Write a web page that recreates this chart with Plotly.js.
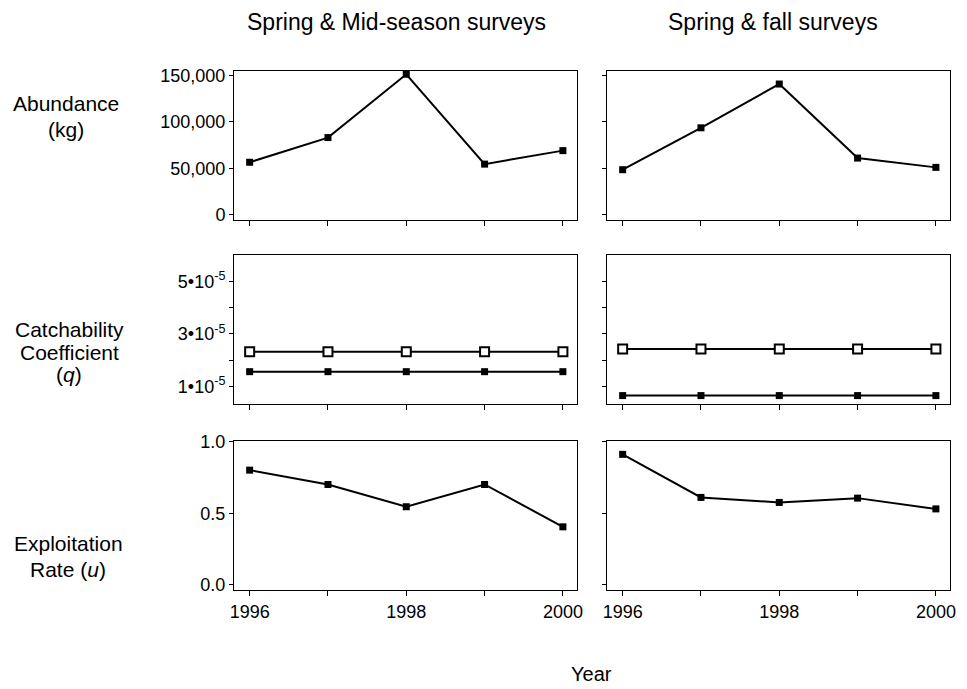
<!DOCTYPE html>
<html>
<head>
<meta charset="utf-8">
<script src="https://cdn.plot.ly/plotly-3.0.1.min.js"></script>
<style>html,body{margin:0;padding:0;background:#fff;}#chart{width:967px;height:689px;}</style>
</head>
<body>
<div id="chart"></div>
<script>
// ---- data ----
const years = [1996, 1997, 1998, 1999, 2000];
const abundanceMid = [56500, 83000, 151000, 54500, 69000];
const abundanceFall = [48500, 93500, 140500, 61000, 51000];
const qMidOpen = [2.32e-5, 2.32e-5, 2.32e-5, 2.32e-5, 2.32e-5];
const qMidFilled = [1.56e-5, 1.56e-5, 1.56e-5, 1.56e-5, 1.56e-5];
const qFallOpen = [2.42e-5, 2.42e-5, 2.42e-5, 2.42e-5, 2.42e-5];
const qFallFilled = [0.65e-5, 0.65e-5, 0.65e-5, 0.65e-5, 0.65e-5];
const uMid = [0.80, 0.70, 0.545, 0.70, 0.405];
const uFall = [0.91, 0.61, 0.575, 0.605, 0.53];

const xTickVals = [1996, 1998, 2000];
const xTickText = ['1996', '1998', '2000'];
const xMinorVals = [1997, 1999];
const abTickVals = [0, 50000, 100000, 150000];
const abTickText = ['0', '50,000', '100,000', '150,000'];
const qTickVals = [1e-5, 3e-5, 5e-5];
const qTickText = ['1•10<sup>-5</sup>', '3•10<sup>-5</sup>', '5•10<sup>-5</sup>'];
const qMinorVals = [2e-5, 4e-5];
const uTickVals = [0, 0.5, 1.0];
const uTickText = ['0.0', '0.5', '1.0'];

const colTitles = ['Spring & Mid-season surveys', 'Spring & fall surveys'];
const rowLabels = [['Abundance', '(kg)'], ['Catchability', 'Coefficient', '(<i>q</i>)'], ['Exploitation', 'Rate (<i>u</i>)']];
const xLabel = 'Year';

// ---- helpers ----
const W = 967, H = 689;
const px = v => v / W;
const py = v => 1 - v / H;

const filledMarker = {symbol: 'square', size: 7, color: '#000'};
const openMarker = {symbol: 'square', size: 9, color: '#fff', line: {color: '#000', width: 2}};
const lineStyle = {color: '#000', width: 2};

function tr(x, y, n, marker) {
  return {x: x, y: y, xaxis: 'x' + (n === 1 ? '' : n), yaxis: 'y' + (n === 1 ? '' : n),
    type: 'scatter', mode: 'lines+markers', line: lineStyle, marker: marker,
    showlegend: false, hoverinfo: 'skip'};
}

const data = [
  tr(years, abundanceMid, 1, filledMarker),
  tr(years, abundanceFall, 2, filledMarker),
  tr(years, qMidFilled, 3, filledMarker),
  tr(years, qMidOpen, 3, openMarker),
  tr(years, qFallFilled, 4, filledMarker),
  tr(years, qFallOpen, 4, openMarker),
  tr(years, uMid, 5, filledMarker),
  tr(years, uFall, 6, filledMarker)
];

const fam = 'Liberation Sans, Arial, sans-serif';
const font = {family: fam, color: '#000'};
const tickFont = {family: fam, size: 18, color: '#000'};

const colDom = [[px(234), px(577)], [px(607), px(950)]];
const rowDom = [[py(220), py(71)], [py(404), py(255)], [py(590), py(441)]];
const yRanges = [[-5500, 154500], [0.33e-5, 6.0e-5], [-0.035, 1.003]];
const yTicks = [[abTickVals, abTickText, []], [qTickVals, qTickText, qMinorVals], [uTickVals, uTickText, []]];

const layout = {
  width: W, height: H,
  margin: {l: 0, r: 0, t: 0, b: 0},
  paper_bgcolor: '#fff', plot_bgcolor: '#fff',
  font: font,
  annotations: []
};

for (let r = 0; r < 3; r++) {
  for (let c = 0; c < 2; c++) {
    const n = r * 2 + c + 1;
    const sfx = n === 1 ? '' : String(n);
    layout['xaxis' + sfx] = {
      domain: colDom[c], range: [1995.8, 2000.18], anchor: 'y' + sfx,
      showline: true, linecolor: '#000', linewidth: 1, mirror: true,
      showgrid: false, zeroline: false,
      ticks: 'outside', ticklen: 5, tickwidth: 1, tickcolor: '#000',
      tickmode: 'array', tickvals: xTickVals, ticktext: xTickText,
      showticklabels: r === 2,
      minor: {tickmode: 'array', tickvals: xMinorVals, ticks: 'outside', ticklen: 5, tickwidth: 1, tickcolor: '#000', showgrid: false},
      tickfont: tickFont, fixedrange: true
    };
    const yax = {
      domain: rowDom[r], range: yRanges[r], anchor: 'x' + sfx,
      showline: true, linecolor: '#000', linewidth: 1, mirror: true,
      showgrid: false, zeroline: false,
      ticks: 'outside', ticklen: 4, tickwidth: 1, tickcolor: '#000',
      tickmode: 'array', tickvals: yTicks[r][0], ticktext: yTicks[r][1],
      showticklabels: c === 0,
      tickfont: tickFont, fixedrange: true
    };
    if (yTicks[r][2].length) {
      yax.minor = {tickmode: 'array', tickvals: yTicks[r][2], ticks: 'outside', ticklen: 4, tickwidth: 1, tickcolor: '#000', showgrid: false};
    }
    layout['yaxis' + sfx] = yax;
  }
}

// column titles
const colCenters = [396, 773];
colTitles.forEach((t, i) => layout.annotations.push({
  text: t, xref: 'paper', yref: 'paper', x: px(colCenters[i]), y: py(22),
  showarrow: false, xanchor: 'center', yanchor: 'middle',
  font: {family: fam, size: 23, color: '#000'}
}));
// row labels (one annotation per line to control spacing)
const rowLineY = [[104, 130], [329, 352, 375], [543, 569]];
const rowX = [66, 69, 68];
rowLabels.forEach((lines, i) => lines.forEach((t, j) => layout.annotations.push({
  text: t, xref: 'paper', yref: 'paper', x: px(rowX[i]), y: py(rowLineY[i][j]),
  showarrow: false, xanchor: 'center', yanchor: 'middle', align: 'center',
  font: {family: fam, size: 21, color: '#000'}
})));
// x label
layout.annotations.push({
  text: xLabel, xref: 'paper', yref: 'paper', x: px(591), y: py(674),
  showarrow: false, xanchor: 'center', yanchor: 'middle',
  font: {family: fam, size: 20, color: '#000'}
});

Plotly.newPlot('chart', data, layout, {displayModeBar: false, staticPlot: true});
</script>
</body>
</html>
